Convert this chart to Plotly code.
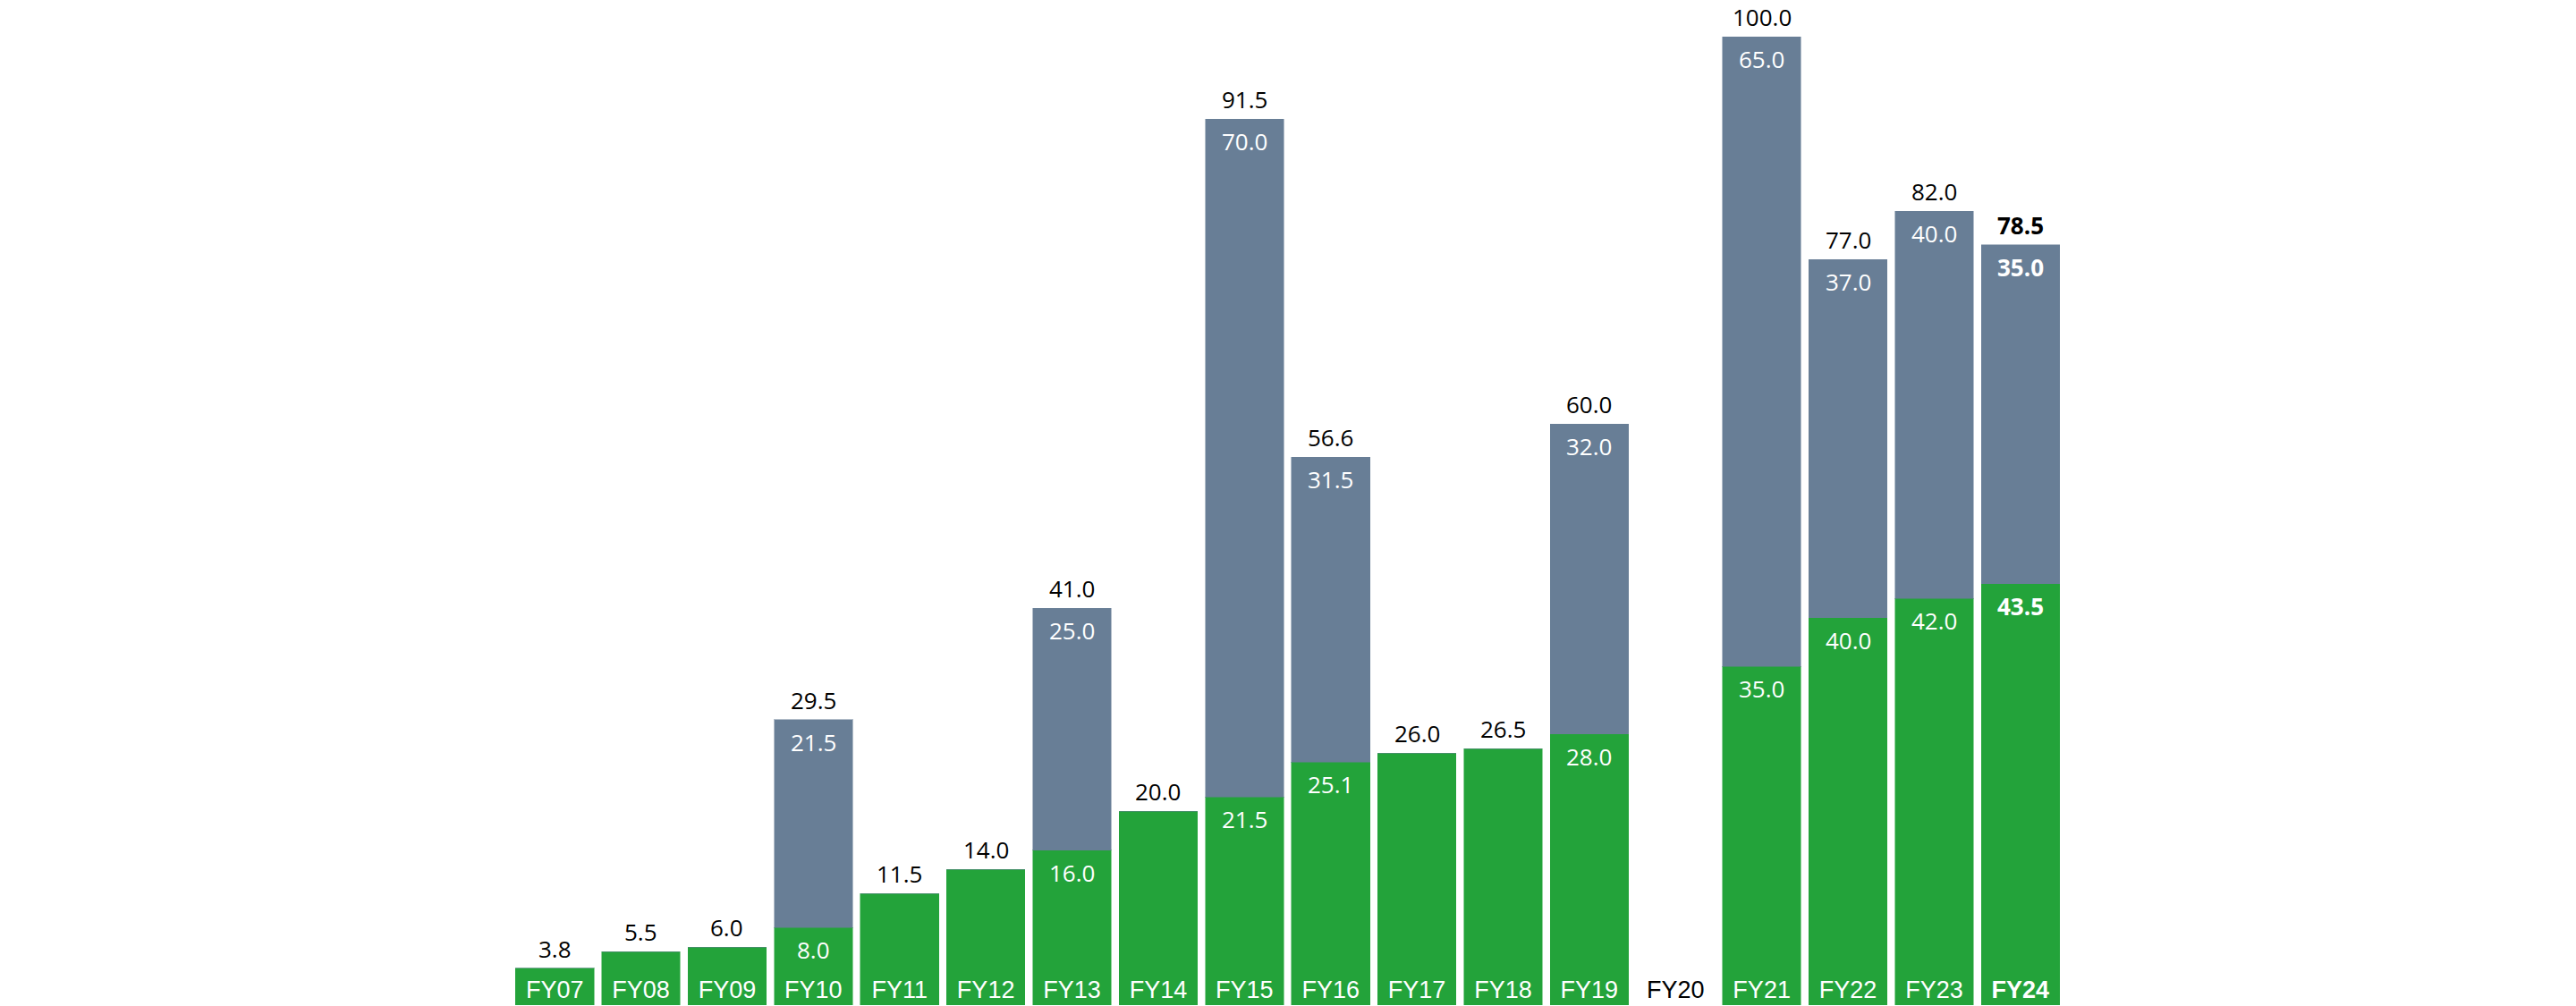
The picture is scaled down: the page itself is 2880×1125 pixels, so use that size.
import plotly.graph_objects as go

categories = ["FY07", "FY08", "FY09", "FY10", "FY11", "FY12", "FY13", "FY14", "FY15",
              "FY16", "FY17", "FY18", "FY19", "FY20", "FY21", "FY22", "FY23", "FY24"]
green_vals = [3.8, 5.5, 6.0, 8.0, 11.5, 14.0, 16.0, 20.0, 21.5,
              25.1, 26.0, 26.5, 28.0, 0.0, 35.0, 40.0, 42.0, 43.5]
grey_vals = [0.0, 0.0, 0.0, 21.5, 0.0, 0.0, 25.0, 0.0, 70.0,
             31.5, 0.0, 0.0, 32.0, 0.0, 65.0, 37.0, 40.0, 35.0]
total_vals = [3.8, 5.5, 6.0, 29.5, 11.5, 14.0, 41.0, 20.0, 91.5,
              56.6, 26.0, 26.5, 60.0, None, 100.0, 77.0, 82.0, 78.5]
highlight = "FY24"
empty_cat = "FY20"

GREEN = "#23A33A"
GREY = "#687E96"
NUM_FONT = "Open Sans"
CAT_FONT = "Liberation Sans, Arial, sans-serif"
NUM_SIZE = 26
CAT_SIZE = 27

fig = go.Figure()
fig.add_trace(go.Bar(
    x=categories, y=green_vals, marker=dict(color=GREEN, line=dict(color="rgba(35,163,58,0.5)", width=1)),
    hoverinfo="skip", showlegend=False))
fig.add_trace(go.Bar(
    x=categories, y=grey_vals, marker=dict(color=GREY, line=dict(color="rgba(104,126,150,0.5)", width=1)),
    hoverinfo="skip", showlegend=False))

def fmt(v, cat):
    s = f"{v:.1f}"
    return f"<b>{s}</b>" if cat == highlight else s

annotations = []
for cat, g, gr, tot in zip(categories, green_vals, grey_vals, total_vals):
    if gr > 0:
        annotations.append(dict(x=cat, y=g, xref="x", yref="y", text=fmt(g, cat), showarrow=False,
                                yanchor="top", yshift=-5,
                                font=dict(family=NUM_FONT, size=NUM_SIZE, color="white")))
        annotations.append(dict(x=cat, y=g + gr, xref="x", yref="y", text=fmt(gr, cat), showarrow=False,
                                yanchor="top", yshift=-5,
                                font=dict(family=NUM_FONT, size=NUM_SIZE, color="white")))
    if tot is not None:
        annotations.append(dict(x=cat, y=tot, xref="x", yref="y", text=fmt(tot, cat), showarrow=False,
                                yanchor="bottom", yshift=2,
                                font=dict(family=NUM_FONT, size=NUM_SIZE, color="black")))

ticktext = []
for cat in categories:
    if cat == empty_cat:
        ticktext.append(f"<span style='color:black'>{cat}</span>")
    elif cat == highlight:
        ticktext.append(f"<b>{cat}</b>")
    else:
        ticktext.append(cat)

fig.update_layout(
    barmode="stack",
    bargap=0.091,
    width=2880, height=1125,
    margin=dict(l=572, r=573, t=0, b=1),
    paper_bgcolor="white", plot_bgcolor="white",
    annotations=annotations,
    xaxis=dict(tickmode="array", tickvals=categories, ticktext=ticktext,
               ticklabelposition="inside", ticks="", showgrid=False, zeroline=False, showline=False,
               tickfont=dict(family=CAT_FONT, size=CAT_SIZE, color="white"),
               range=[-0.5, 17.5], fixedrange=True),
    yaxis=dict(visible=False, range=[0, 103.8], showgrid=False, zeroline=False, fixedrange=True),
)

fig.write_html("out.html", config={"displayModeBar": False})
